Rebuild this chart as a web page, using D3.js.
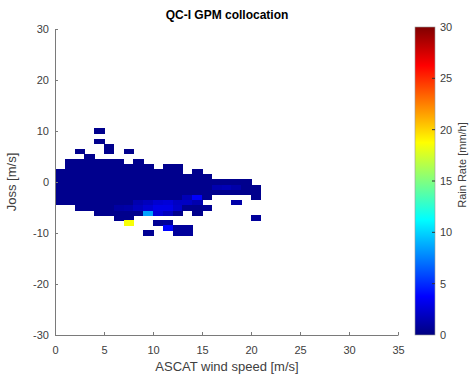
<!DOCTYPE html>
<html>
<head>
<meta charset="utf-8">
<script src="https://cdn.jsdelivr.net/npm/d3@7"></script>
<style>
  body { margin: 0; background: #fff; }
  svg { font-family: "Liberation Sans", Arial, sans-serif; }
</style>
</head>
<body>
<svg id="chart" width="473" height="379"></svg>
<script>
// x bin start, lowest and highest y bin centre of the main block, per column
const blockCols = [
  [0, -4, 2], [1, -4, 4], [2, -5, 4], [3, -5, 5], [4, -6, 4],
  [5, -6, 4], [6, -7, 4], [7, -7, 3], [8, -6, 4], [9, -6, 3],
  [10, -6, 2], [11, -6, 3], [12, -6, 3], [13, -5, 1], [14, -6, 2],
  [15, -3, 1], [16, -2, 0], [17, -2, 0], [18, -2, 0], [19, -2, 0],
  [20, -3, -1]
];
const baseRain = 0.4;

// single cells: [x bin start, y bin centre, rain rate]
const extraCells = [
  [4, 10, 0.4], [4, 8, 0.4], [2, 6, 0.4], [5, 7, 0.4], [5, 6, 0.4],
  [7, 6, 0.4], [7, -8, 18.5], [10, -8, 0.6], [11, -8, 0.8],
  [11, -9, 3.8], [12, -9, 0.8], [12, -10, 0.8], [13, -9, 0.8],
  [13, -10, 0.8], [9, -10, 0.6], [15, -5, 0.6], [18, -4, 1.2],
  [20, -7, 0.8]
];

// brighter cells inside the main block
const blockRain = [
  [8, -4, 1.4], [8, -5, 1.8], [9, -4, 1.8], [9, -5, 2.4], [9, -6, 8.5],
  [10, -4, 2.4], [10, -5, 3.0], [10, -6, 2.6], [11, -4, 2.6],
  [11, -5, 3.0], [11, -6, 1.8], [12, -4, 2.0], [12, -5, 2.2],
  [13, -3, 1.6], [13, -4, 2.0], [14, -3, 3.6], [14, -4, 1.4],
  [6, -5, 1.0], [7, -5, 1.2], [16, -1, 1.4], [17, -1, 1.6], [18, -1, 1.2]
];

const xTicks = [0, 5, 10, 15, 20, 25, 30, 35];
const yTicks = [-30, -20, -10, 0, 10, 20, 30];
const cTicks = [0, 5, 10, 15, 20, 25, 30];

// MATLAB jet
function jet(t) {
  const c = v => Math.round(255 * Math.max(0, Math.min(1, v)));
  return `rgb(${c(1.5 - Math.abs(4 * t - 3))},${c(1.5 - Math.abs(4 * t - 2))},${c(1.5 - Math.abs(4 * t - 1))})`;
}

const svg = d3.select('#chart');
const x = d3.scaleLinear().domain([0, 35]).range([55, 398]);
const y = d3.scaleLinear().domain([-30, 30]).range([335, 29]);
const cScale = d3.scaleLinear().domain([0, 30]).range([335, 27]);
const color = v => jet(Math.max(0, Math.min(1, v / 30)));

// build cell list
const cells = [];
const key = (i, j) => i + ':' + j;
const rainMap = new Map(blockRain.map(d => [key(d[0], d[1]), d[2]]));
blockCols.forEach(([i, lo, hi]) => {
  for (let j = lo; j <= hi; j++) {
    cells.push({ i, j, v: rainMap.has(key(i, j)) ? rainMap.get(key(i, j)) : baseRain });
  }
});
extraCells.forEach(([i, j, v]) => cells.push({ i, j, v }));

svg.append('g')
    .attr('shape-rendering', 'crispEdges')
  .selectAll('rect')
  .data(cells)
  .join('rect')
    .attr('x', d => x(d.i))
    .attr('y', d => y(d.j + 0.5))
    .attr('width', d => x(d.i + 1) - x(d.i) + 0.5)
    .attr('height', d => y(d.j - 0.5) - y(d.j + 0.5) + 0.5)
    .attr('fill', d => color(d.v));

// axes
const axisColor = '#7a7a7a';
const textColor = '#404040';
const fmt = d => String(d);

const gx = svg.append('g')
  .attr('transform', `translate(0,${y(-30)})`)
  .call(d3.axisBottom(x).tickValues(xTicks).tickFormat(fmt).tickSizeInner(-3).tickSizeOuter(0).tickPadding(11));
const gy = svg.append('g')
  .attr('transform', `translate(${x(0)},0)`)
  .call(d3.axisLeft(y).tickValues(yTicks).tickFormat(fmt).tickSizeInner(-3).tickSizeOuter(0).tickPadding(6));

[gx, gy].forEach(g => {
  g.select('.domain').attr('stroke', axisColor);
  g.selectAll('.tick line').attr('stroke', axisColor);
  g.selectAll('.tick text').attr('fill', textColor).style('font-size', '11px');
});

// colorbar
const defs = svg.append('defs');
const grad = defs.append('linearGradient')
  .attr('id', 'jetgrad')
  .attr('x1', 0).attr('y1', 1).attr('x2', 0).attr('y2', 0);
grad.selectAll('stop')
  .data(d3.range(0, 1.0001, 0.0625))
  .join('stop')
    .attr('offset', d => d)
    .attr('stop-color', d => jet(d));

svg.append('rect')
  .attr('x', 415).attr('y', cScale(30))
  .attr('width', 20).attr('height', cScale(0) - cScale(30))
  .attr('fill', 'url(#jetgrad)')
  .attr('stroke', '#9a9a9a')
  .attr('stroke-width', 0.6);

const cbar = svg.append('g').attr('transform', 'translate(435,0)');
cbar.selectAll('line')
  .data(cTicks.slice(1, -1))
  .join('line')
    .attr('x1', -3).attr('x2', 0)
    .attr('y1', d => cScale(d)).attr('y2', d => cScale(d))
    .attr('stroke', '#333');
cbar.selectAll('text')
  .data(cTicks)
  .join('text')
    .attr('x', 5)
    .attr('y', d => cScale(d))
    .attr('dy', '0.35em')
    .attr('fill', textColor)
    .style('font-size', '11px')
    .text(d => d);

svg.append('text')
  .attr('transform', 'translate(466,165) rotate(-90)')
  .attr('text-anchor', 'middle')
  .attr('fill', textColor)
  .style('font-size', '11px')
  .text('Rain Rate [mm/h]');

// titles
svg.append('text')
  .attr('x', 227).attr('y', 19)
  .attr('text-anchor', 'middle')
  .attr('fill', '#000')
  .style('font-size', '12px')
  .style('font-weight', 'bold')
  .text('QC-I GPM collocation');

svg.append('text')
  .attr('x', 227).attr('y', 371)
  .attr('text-anchor', 'middle')
  .attr('fill', textColor)
  .style('font-size', '13px')
  .text('ASCAT wind speed [m/s]');

svg.append('text')
  .attr('transform', `translate(16,${y(0)}) rotate(-90)`)
  .attr('text-anchor', 'middle')
  .attr('fill', textColor)
  .style('font-size', '13px')
  .text('Joss [m/s]');
</script>
</body>
</html>
